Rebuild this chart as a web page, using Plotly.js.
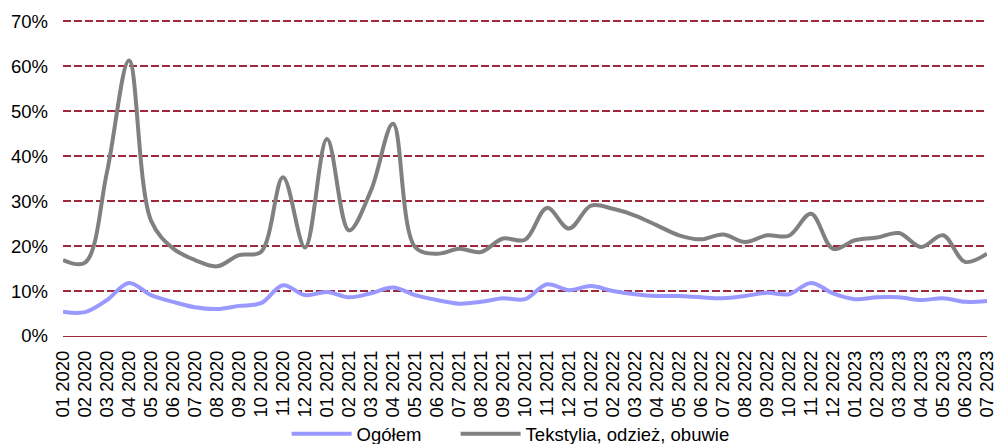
<!DOCTYPE html>
<html>
<head>
<meta charset="utf-8">
<script src="https://cdn.plot.ly/plotly-3.0.1.min.js"></script>
<style>html,body{margin:0;padding:0;background:#fff;}#chart{width:995px;height:444px;}</style>
</head>
<body>
<div id="chart"></div>
<script>
const months = ["01 2020","02 2020","03 2020","04 2020","05 2020","06 2020","07 2020","08 2020","09 2020","10 2020","11 2020","12 2020",
"01 2021","02 2021","03 2021","04 2021","05 2021","06 2021","07 2021","08 2021","09 2021","10 2021","11 2021","12 2021",
"01 2022","02 2022","03 2022","04 2022","05 2022","06 2022","07 2022","08 2022","09 2022","10 2022","11 2022","12 2022",
"01 2023","02 2023","03 2023","04 2023","05 2023","06 2023","07 2023"];
const ogolem = [5.4,5.3,8.0,11.8,9.1,7.6,6.4,6.0,6.7,7.3,11.3,9.1,
9.8,8.6,9.5,10.8,9.1,8.0,7.2,7.6,8.4,8.2,11.5,10.2,
11.1,10.0,9.3,8.9,8.9,8.6,8.4,8.9,9.6,9.3,11.8,9.5,
8.2,8.6,8.6,8.0,8.4,7.6,7.8];
const tekstylia = [16.9,16.3,36.5,61.3,25.7,19.5,16.9,15.5,18.0,18.7,35.3,19.7,
43.8,23.5,32.4,47.2,19.8,18.3,19.4,18.7,21.7,21.4,28.5,23.9,
29.0,28.3,26.8,24.6,22.4,21.5,22.6,20.9,22.4,22.3,27.2,19.4,
21.3,21.9,22.9,19.8,22.4,16.5,18.3];
const yTicks = [0,10,20,30,40,50,60,70];
const yTickText = yTicks.map(v => v + "%");

const red = "#A0283C";
const traces = [
  {x: months, y: ogolem, name: "Ogółem", type: "scatter", mode: "lines", legendwidth: 94,
   line: {color: "#9999FF", width: 4, shape: "spline", smoothing: 1}},
  {x: months, y: tekstylia, name: "Tekstylia, odzież, obuwie", type: "scatter", mode: "lines",
   line: {color: "#808080", width: 4, shape: "spline", smoothing: 1}}
];
const layout = {
  width: 995, height: 444,
  margin: {l: 63, r: 8, t: 20, b: 108},
  paper_bgcolor: "#fff", plot_bgcolor: "#fff",
  font: {family: "Liberation Sans, Arial, sans-serif", size: 18.5, color: "#000"},
  showlegend: true,
  legend: {orientation: "h", x: 0.242, xanchor: "left", yref: "container", y: 0.022, yanchor: "middle",
           bgcolor: "rgba(0,0,0,0)", font: {size: 18.5, color: "#000"}, tracegroupgap: 0, itemwidth: 60},
  xaxis: {type: "category", range: [0, 42], showgrid: false, zeroline: false,
          showline: false, ticks: "", tickangle: -90, tickfont: {size: 18.5},
          ticklabelstandoff: 10, automargin: false},
  yaxis: {range: [0, 70.3], tickvals: yTicks, ticktext: yTickText, showgrid: true,
          gridcolor: red, gridwidth: 2, griddash: "8px,3px",
          zeroline: true, zerolinecolor: red, zerolinewidth: 1,
          showline: false, ticks: "", tickfont: {size: 18.5},
          ticklabelstandoff: 14, automargin: false}
};
Plotly.newPlot("chart", traces, layout, {displayModeBar: false, staticPlot: true});
</script>
</body>
</html>
